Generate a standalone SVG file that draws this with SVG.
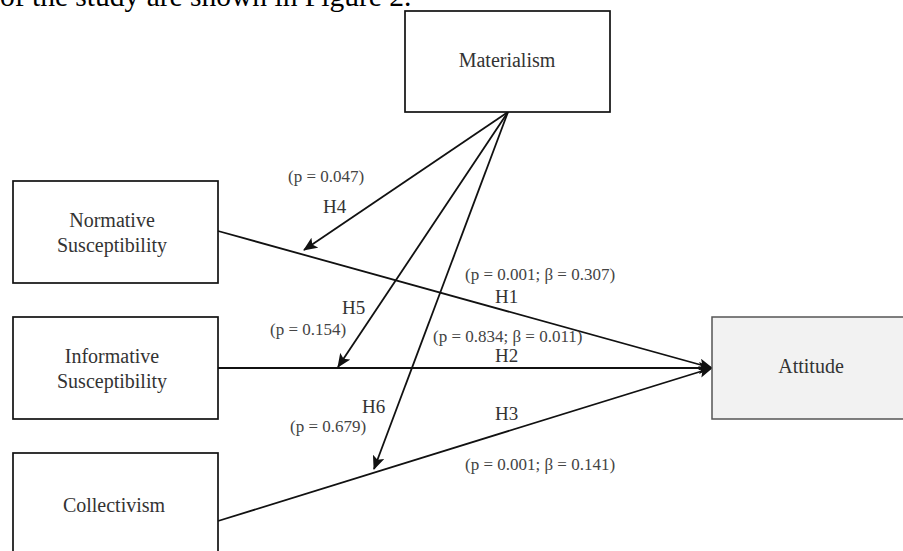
<svg xmlns="http://www.w3.org/2000/svg" width="903" height="551" viewBox="0 0 903 551">
  <style>
    .box { fill: #ffffff; stroke: #111111; stroke-width: 1.7; }
    .box-out { fill: #f2f2f2; stroke: #555555; stroke-width: 1.5; }
    .lbl { font-family: "Liberation Serif", "Times New Roman", serif; font-size: 20px; fill: #333333; text-anchor: middle; }
    .hyp { font-family: "Liberation Serif", "Times New Roman", serif; font-size: 19px; fill: #333333; }
    .stat { font-family: "Liberation Serif", "Times New Roman", serif; font-size: 17px; fill: #444444; }
    .edge { fill: none; stroke: #111111; stroke-width: 1.8; marker-end: url(#arrow); }
    .body { font-family: "Liberation Serif", "Times New Roman", serif; font-size: 29.5px; fill: #000000; }
  </style>
  <defs>
    <marker id="arrow" viewBox="0 0 14 12" refX="13" refY="6" markerWidth="14" markerHeight="12" markerUnits="userSpaceOnUse" orient="auto">
      <path d="M0,0 L14,6 L0,12 L3,6 Z" fill="#111111"/>
    </marker>
  </defs>

  <rect width="903" height="551" fill="#ffffff"/>

  <!-- running text above the figure -->
  <text class="body" x="0" y="6">of the study are shown in Figure 2.</text>

  <!-- connectors -->
  <g id="connectors">
    <line class="edge" x1="218" y1="231" x2="712" y2="368"/>
    <line class="edge" x1="218" y1="368" x2="712" y2="368"/>
    <line class="edge" x1="218" y1="521" x2="712" y2="368"/>
    <line class="edge" x1="508" y1="112" x2="304" y2="250"/>
    <line class="edge" x1="508" y1="112" x2="338" y2="367"/>
    <line class="edge" x1="508" y1="112" x2="374" y2="469"/>
  </g>

  <!-- path labels -->
  <g id="edge-labels">
    <text class="stat" x="288" y="182">(p = 0.047)</text>
    <text class="hyp" x="323" y="213">H4</text>
    <text class="stat" x="465" y="280">(p = 0.001; β = 0.307)</text>
    <text class="hyp" x="495" y="303">H1</text>
    <text class="hyp" x="342" y="314">H5</text>
    <text class="stat" x="270" y="335">(p = 0.154)</text>
    <text class="stat" x="433" y="342">(p = 0.834; β = 0.011)</text>
    <text class="hyp" x="495" y="362">H2</text>
    <text class="hyp" x="362" y="413">H6</text>
    <text class="hyp" x="495" y="420">H3</text>
    <text class="stat" x="290" y="432">(p = 0.679)</text>
    <text class="stat" x="465" y="470">(p = 0.001; β = 0.141)</text>
  </g>

  <g id="materialism">
    <rect class="box" x="405" y="11" width="205" height="101"/>
    <text class="lbl" x="507" y="67">Materialism</text>
  </g>

  <g id="normative">
    <rect class="box" x="13" y="181" width="205" height="102"/>
    <text class="lbl" x="112" y="227">Normative</text>
    <text class="lbl" x="112" y="252">Susceptibility</text>
  </g>

  <g id="informative">
    <rect class="box" x="13" y="317" width="205" height="102"/>
    <text class="lbl" x="112" y="363">Informative</text>
    <text class="lbl" x="112" y="388">Susceptibility</text>
  </g>

  <g id="collectivism">
    <rect class="box" x="13" y="453" width="205" height="110"/>
    <text class="lbl" x="114" y="512">Collectivism</text>
  </g>

  <g id="attitude">
    <rect class="box-out" x="712" y="317" width="205" height="102"/>
    <text class="lbl" x="811" y="373">Attitude</text>
  </g>
</svg>
